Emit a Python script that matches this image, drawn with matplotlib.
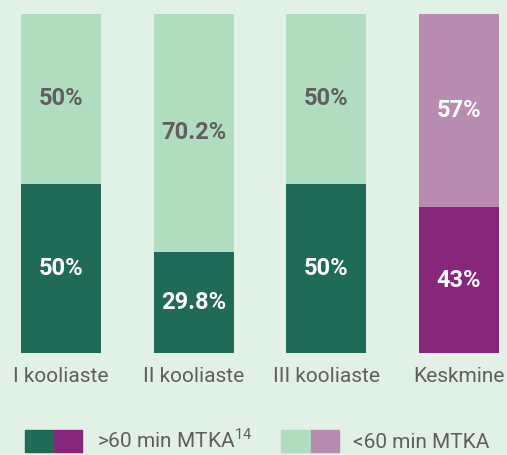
import matplotlib.pyplot as plt
from matplotlib.patches import Patch
from matplotlib.legend_handler import HandlerTuple

plt.rcParams['font.family'] = ['Roboto', 'DejaVu Sans']
plt.rcParams['mathtext.fontset'] = 'custom'
plt.rcParams['mathtext.rm'] = 'Roboto'

# data
categories = ['I kooliaste', 'II kooliaste', 'III kooliaste', 'Keskmine']
over60 = [50, 29.8, 50, 43]
under60 = [50, 70.2, 50, 57]
over_labels = ['50%', '29.8%', '50%', '43%']
under_labels = ['50%', '70.2%', '50%', '57%']

bg = '#e2f1e6'
dark = ['#1f6b58', '#1f6b58', '#1f6b58', '#87267a']
light = ['#b0dcc0', '#b0dcc0', '#b0dcc0', '#b88bb1']
gray = '#5f5f5f'

fig = plt.figure(figsize=(5.07, 4.55), dpi=100, facecolor=bg)
ax = fig.add_axes([0, 102/455, 1, 339/455])
ax.set_facecolor(bg)

x = range(len(categories))
ax.bar(x, over60, width=0.603, color=dark)
ax.bar(x, under60, bottom=over60, width=0.603, color=light)

for i in x:
    ax.text(i, over60[i] / 2, over_labels[i], ha='center', va='center',
            color='white', fontsize=17, fontweight='bold')
    ax.text(i, over60[i] + under60[i] / 2, under_labels[i], ha='center', va='center',
            color=gray if i < 3 else 'white', fontsize=17, fontweight='bold')

ax.set_xlim(-61/132.67, (507-61)/132.67)
ax.set_ylim(0, 100)
ax.set_xticks(list(x))
ax.set_xticklabels(categories, fontsize=15, color=gray)
ax.tick_params(axis='x', length=0, pad=10)
ax.set_yticks([])
for s in ax.spines.values():
    s.set_visible(False)

h1 = (Patch(color=dark[0]), Patch(color=dark[3]))
h2 = (Patch(color=light[0]), Patch(color=light[3]))
fig.legend([h1, h2], ['>60 min MTKA$^{14}$', '<60 min MTKA'],
           handler_map={tuple: HandlerTuple(ndivide=None, pad=0.05)},
           loc='lower left', bbox_to_anchor=(25/507, 3/455), ncol=2,
           frameon=False, fontsize=15, labelcolor=gray,
           handlelength=2.75, handleheight=1.25, handletextpad=0.7,
           columnspacing=1.4, borderpad=0, borderaxespad=0)

fig.savefig('out.png', dpi=100, facecolor=bg)
